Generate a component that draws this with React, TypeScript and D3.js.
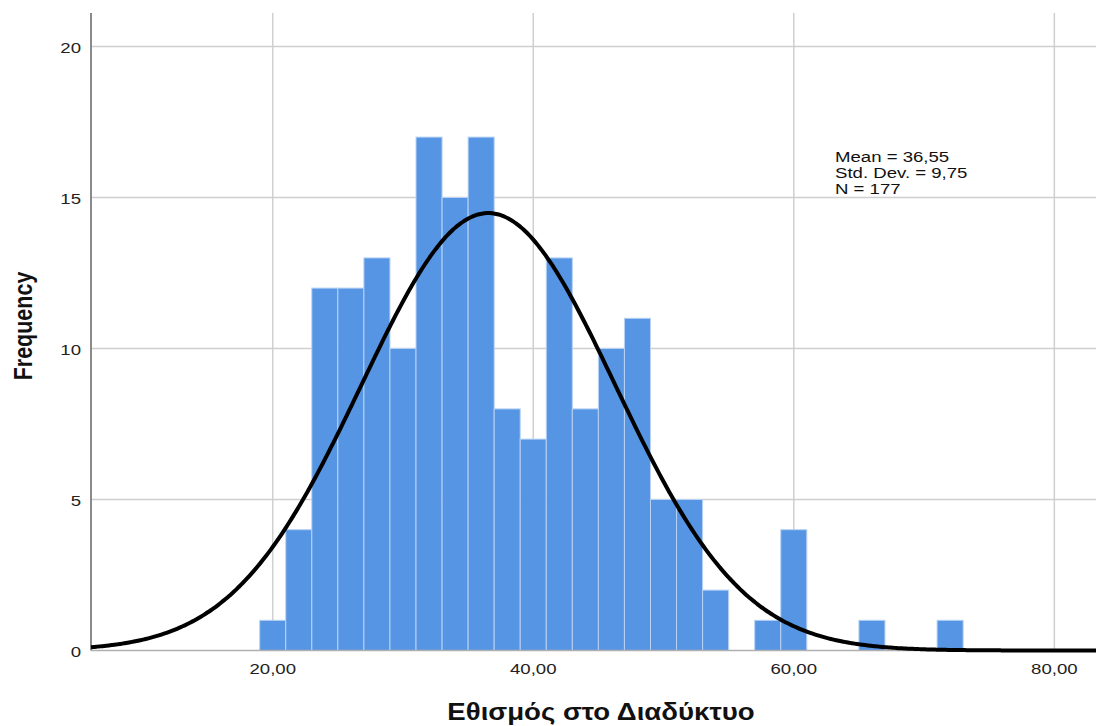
import React, { useEffect, useRef } from "react";
import * as d3 from "d3";

// histogram bins (centre of each 2-unit bin) and counts
const binCenters = [20, 22, 24, 26, 28, 30, 32, 34, 36, 38, 40, 42, 44, 46, 48, 50, 52, 54, 56, 58, 60, 62, 64, 66, 68, 70, 72];
const frequencies = [1, 4, 12, 12, 13, 10, 17, 15, 17, 8, 7, 13, 8, 10, 11, 5, 5, 2, 0, 1, 4, 0, 0, 1, 0, 0, 1];
const binWidth = 2;

const xTicks = [20, 40, 60, 80];
const xTickLabels = ["20,00", "40,00", "60,00", "80,00"];
const yTicks = [0, 5, 10, 15, 20];

const statLines = ["Mean = 36,55", "Std. Dev. = 9,75", "N = 177"];
const mean = 36.55;
const stdDev = 9.75;
const nCases = 177;

const xTitle = "Εθισμός στο Διαδύκτυο";
const yTitle = "Frequency";

const W = 1096;
const H = 726;
const SX = 1.2; // the original is stretched horizontally

export default function App() {
  const svgRef = useRef<SVGSVGElement | null>(null);

  useEffect(() => {
    const svg = d3.select(svgRef.current);
    svg.selectAll("*").remove();

    const left = 91, right = 1096, top = 13, bottom = 650.5;

    const x = d3.scaleLinear().domain([6.05, 83.2]).range([left, right]);
    const y = d3.scaleLinear().domain([0, 20]).range([bottom, bottom - 20 * 30.2]);

    const font = "Arial, 'Liberation Sans', sans-serif";

    // grid
    svg.append("g")
      .selectAll("line")
      .data(yTicks.filter(d => d > 0))
      .join("line")
      .attr("x1", left).attr("x2", right)
      .attr("y1", d => y(d)).attr("y2", d => y(d))
      .attr("stroke", "#cfcfcf").attr("stroke-width", 1.5)

    svg.append("g")
      .selectAll("line")
      .data(xTicks)
      .join("line")
      .attr("x1", d => x(d)).attr("x2", d => x(d))
      .attr("y1", top).attr("y2", bottom)
      .attr("stroke", "#cfcfcf").attr("stroke-width", 1.5)

    // bars
    const bins = binCenters.map((c, i) => ({ c, f: frequencies[i] })).filter(d => d.f > 0)
    svg.append("g")
      .selectAll("rect")
      .data(bins)
      .join("rect")
      .attr("x", d => x(d.c - binWidth / 2))
      .attr("width", d => x(d.c + binWidth / 2) - x(d.c - binWidth / 2))
      .attr("y", d => y(d.f))
      .attr("height", d => y(0) - y(d.f))
      .attr("fill", "#5595e4")
      .attr("stroke", "#b8d2f3")
      .attr("stroke-width", 1)

    // axes lines
    svg.append("line")
      .attr("x1", left).attr("x2", left).attr("y1", top).attr("y2", bottom)
      .attr("stroke", "#8a8a8a").attr("stroke-width", 2)
    svg.append("line")
      .attr("x1", left).attr("x2", right).attr("y1", bottom).attr("y2", bottom)
      .attr("stroke", "#b0b0b0").attr("stroke-width", 1.5)

    // normal curve
    const peak = nCases * binWidth / (stdDev * Math.sqrt(2 * Math.PI))
    const xs = d3.range(6.05, 83.3, 0.2)
    const line = d3.line<number>()
      .x(d => x(d))
      .y(d => y(peak * Math.exp(-0.5 * ((d - mean) / stdDev) ** 2)))
      .curve(d3.curveBasis)
    svg.append("path")
      .datum(xs)
      .attr("d", line)
      .attr("fill", "none")
      .attr("stroke", "#000")
      .attr("stroke-width", 4)

    // tick labels
    xTicks.forEach((t, i) => {
      svg.append("text")
        .attr("transform", `translate(${x(t)},${bottom + 23}) scale(${SX},1)`)
        .attr("text-anchor", "middle")
        .attr("font-family", font)
        .attr("font-size", 15.5)
        .attr("fill", "#222")
        .text(xTickLabels[i])
    })
    yTicks.forEach(t => {
      svg.append("text")
        .attr("transform", `translate(${left - 10},${y(t) + 6}) scale(${SX},1)`)
        .attr("text-anchor", "end")
        .attr("font-family", font)
        .attr("font-size", 15.5)
        .attr("fill", "#222")
        .text(t)
    })

    // titles
    svg.append("text")
      .attr("transform", `translate(601,720) scale(${SX},1)`)
      .attr("text-anchor", "middle")
      .attr("font-family", font)
      .attr("font-size", 23)
      .attr("font-weight", "bold")
      .attr("fill", "#111")
      .text(xTitle)

    svg.append("text")
      .attr("transform", `translate(32,326) scale(${SX},1) rotate(-90)`)
      .attr("text-anchor", "middle")
      .attr("font-family", font)
      .attr("font-size", 21.5)
      .attr("font-weight", "bold")
      .attr("fill", "#111")
      .text(yTitle)

    // stats box
    statLines.forEach((s, i) => {
      svg.append("text")
        .attr("transform", `translate(835,${162 + i * 16.2}) scale(${SX},1)`)
        .attr("font-family", font)
        .attr("font-size", 15.5)
        .attr("fill", "#111")
        .text(s)
    })
  }, [])

  return (
    <svg
      ref={svgRef}
      width={W}
      height={H}
      style={{ position: "absolute", left: 0, top: 0, background: "#fff" }}
    />
  );
}
